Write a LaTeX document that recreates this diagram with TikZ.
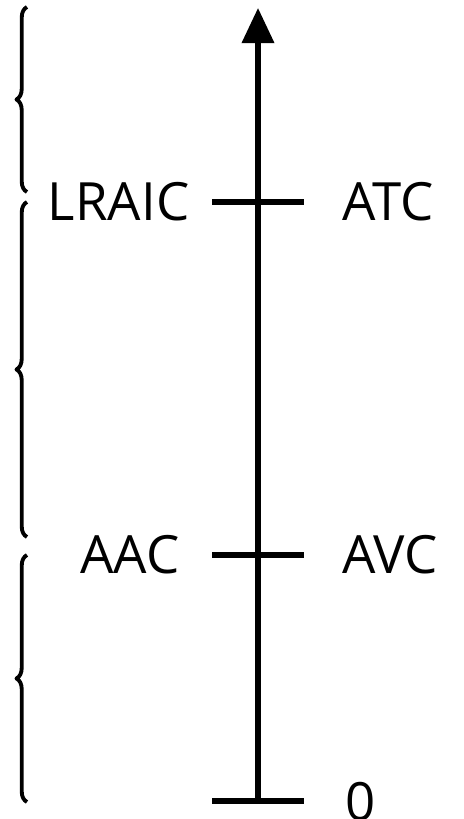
\documentclass[tikz,border=0pt]{standalone}
\usepackage{fontspec}
\setmainfont{Open Sans}
\usetikzlibrary{decorations.pathreplacing,arrows.meta}
\begin{document}
\begin{tikzpicture}[x=0.01cm, y=0.01cm, line join=round,
	axisline/.style={line width=1.45pt},
	costbrace/.style={line width=1.1pt, decorate, decoration={brace, amplitude=3pt}},
	lbl/.style={font=\fontsize{15}{17}\selectfont, inner sep=0pt}]
	\useasboundingbox (0,0) rectangle (463,819);
	\coordinate (O)   at (258, 18);
	\coordinate (top) at (258, 811);
	\coordinate (T0l) at (212, 18);
	\coordinate (T0r) at (304, 18);
	\coordinate (T1l) at (212, 264);
	\coordinate (T1r) at (304, 264);
	\coordinate (T2l) at (212, 617);
	\coordinate (T2r) at (304, 617);
	\coordinate (B1a) at (27, 17);
	\coordinate (B1b) at (27, 264);
	\coordinate (B2a) at (27, 282);
	\coordinate (B2b) at (27, 617);
	\coordinate (B3a) at (27, 627);
	\coordinate (B3b) at (27, 812);
	\draw[axisline, -{Triangle[length=10pt, width=9pt]}] (O) -- (top);
	\draw[axisline] (T0l) -- (T0r) (T1l) -- (T1r) (T2l) -- (T2r);
	\draw[costbrace] (B1a) -- (B1b);
	\draw[costbrace] (B2a) -- (B2b);
	\draw[costbrace] (B3a) -- (B3b);
	\node[lbl, anchor=east] (lraic) at (190, 617) {LRAIC};
	\node[lbl, anchor=west] (atc)   at (342, 617) {ATC};
	\node[lbl, anchor=east] (aac)   at (180, 264) {AAC};
	\node[lbl, anchor=west] (avc)   at (342, 264) {AVC};
	\node[lbl, anchor=west] (zero)  at (345, 17) {0};
\end{tikzpicture}
\end{document}
